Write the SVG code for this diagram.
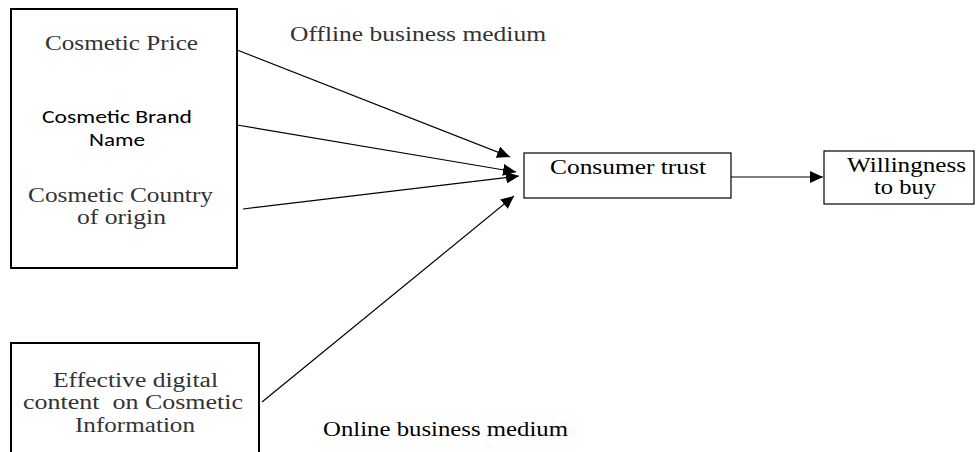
<svg xmlns="http://www.w3.org/2000/svg" width="976" height="452" viewBox="0 0 976 452">
<style>
.box{fill:#fff;stroke:#000}
.thick{stroke-width:2}
.thin{stroke-width:1.2}
.s{font-family:"Liberation Serif","Times New Roman",serif;font-size:21px;fill:#333;text-anchor:middle}
.d{font-size:20px}
.k{fill:#000}
.sans{font-family:Carlito,"Liberation Sans",Arial,sans-serif;font-size:18.5px;fill:#000;text-anchor:middle}
.edge{stroke:#000;stroke-width:1.2;fill:none;marker-end:url(#ah)}
</style>
<defs>
<marker id="ah" markerUnits="userSpaceOnUse" markerWidth="14" markerHeight="12" refX="13" refY="6" orient="auto">
<path d="M0,0 L13,6 L0,12 Z" fill="#000"/>
</marker>
</defs>
<rect width="976" height="452" fill="#fff"/>
<g id="factors">
<rect class="box thick" x="11" y="9" width="226" height="259"/>
<text class="s" x="121.5" y="50" textLength="153" lengthAdjust="spacingAndGlyphs">Cosmetic Price</text>
<text class="sans" x="117" y="123" textLength="150" lengthAdjust="spacingAndGlyphs">Cosmetic Brand</text>
<text class="sans" x="117" y="146" textLength="56" lengthAdjust="spacingAndGlyphs">Name</text>
<text class="s" x="120.5" y="202" textLength="185" lengthAdjust="spacingAndGlyphs">Cosmetic Country</text>
<text class="s" x="121.5" y="224" textLength="89" lengthAdjust="spacingAndGlyphs">of origin</text>
</g>
<g id="digital">
<rect class="box thick" x="11" y="343" width="248" height="115"/>
<text class="s d" x="135.5" y="387" textLength="165" lengthAdjust="spacingAndGlyphs">Effective digital</text>
<text class="s d" x="133" y="409" textLength="220" lengthAdjust="spacingAndGlyphs" xml:space="preserve">content  on Cosmetic</text>
<text class="s d" x="135" y="431.5" textLength="120" lengthAdjust="spacingAndGlyphs">Information</text>
</g>
<g id="trust">
<rect class="box thin" x="524" y="153" width="207" height="45"/>
<text class="s k" x="628" y="174" textLength="156" lengthAdjust="spacingAndGlyphs">Consumer trust</text>
</g>
<g id="willingness">
<rect class="box thin" x="824" y="151" width="150" height="53"/>
<text class="s k" x="906.5" y="172" textLength="119" lengthAdjust="spacingAndGlyphs">Willingness</text>
<text class="s k" x="905" y="194" textLength="62" lengthAdjust="spacingAndGlyphs">to buy</text>
</g>
<g id="labels">
<text class="s" x="418" y="41" textLength="256" lengthAdjust="spacingAndGlyphs">Offline business medium</text>
<text class="s k" x="445.5" y="436" textLength="245" lengthAdjust="spacingAndGlyphs">Online business medium</text>
</g>
<g id="connectors">
<line class="edge" x1="237" y1="50" x2="510" y2="157"/>
<line class="edge" x1="237" y1="125" x2="516" y2="172"/>
<line class="edge" x1="243" y1="209" x2="519" y2="176"/>
<line class="edge" x1="262" y1="402" x2="514" y2="196"/>
<line class="edge" x1="731" y1="177" x2="823" y2="177"/>
</g>
</svg>
